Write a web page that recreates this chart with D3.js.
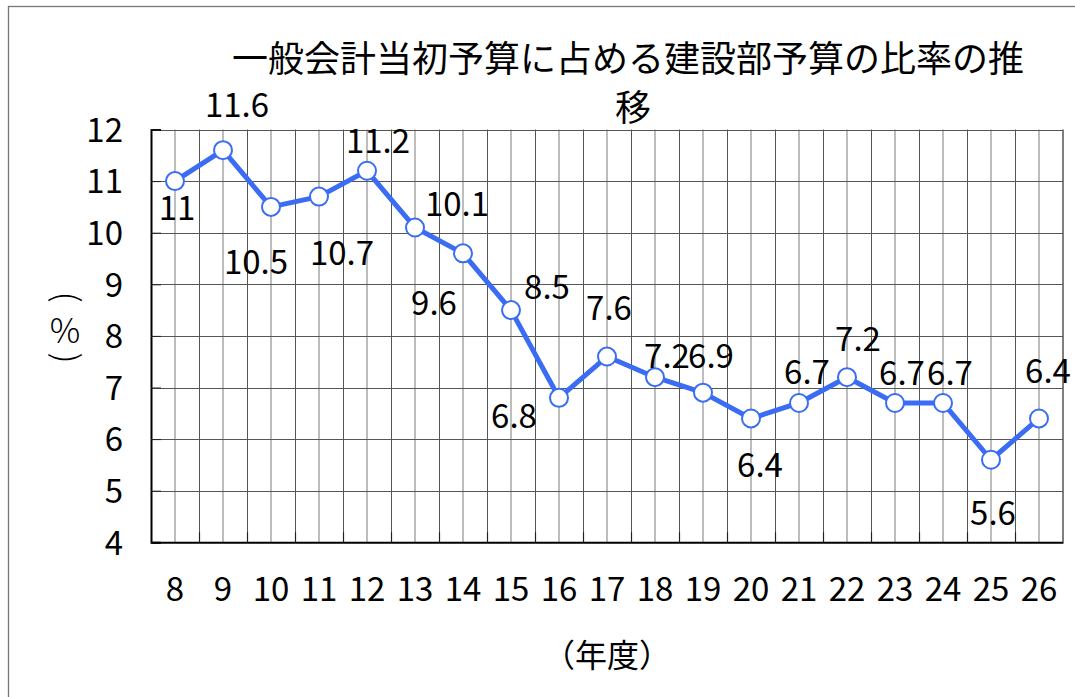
<!DOCTYPE html>
<html>
<head>
<meta charset="utf-8">
<script src="https://cdn.jsdelivr.net/npm/d3@7/dist/d3.min.js"></script>
<style>
  html, body { margin: 0; padding: 0; background: #fff; }
  svg { display: block; }
  text { font-family: "Noto Sans CJK JP", "Noto Sans", sans-serif; fill: #000; }
</style>
</head>
<body>
<svg id="chart" width="1075" height="697"></svg>
<script>
// ---- data ----
const years = ["8","9","10","11","12","13","14","15","16","17","18","19","20","21","22","23","24","25","26"];
const ratios = [11, 11.6, 10.5, 10.7, 11.2, 10.1, 9.6, 8.5, 6.8, 7.6, 7.2, 6.9, 6.4, 6.7, 7.2, 6.7, 6.7, 5.6, 6.4];
const yTicks = [4, 5, 6, 7, 8, 9, 10, 11, 12];
const titleLines = ["一般会計当初予算に占める建設部予算の比率の推", "移"];
const yAxisTitleParts = ["(", "%", ")"];
const xAxisTitle = "（年度）";

// label placement (offsets in px from the marker centre, chosen to mimic the reference)
const labelOffsets = [
  [2, 27], [14, -45], [-15, 55], [23, 57], [11, -30], [42, -23], [-29, 50], [36, -23],
  [-45, 18], [2, -48], [12, -21], [8, -37], [9, 47], [8, -31], [11, -38], [7, -30], [7, -30],
  [2, 53], [9, -47]
];

// ---- layout ----
const svg = d3.select("#chart");
const L = 151, R = 1063, T = 129.5, B = 542.3;
const blue = "#3a6cf4";
const FS = 33;

// outer frame
svg.append("rect").attr("x", 8.5).attr("y", 6.5).attr("width", 1100).attr("height", 720)
  .attr("fill", "none").attr("stroke", "#777").attr("stroke-width", 1.3);

const x = d3.scaleBand().domain(years).range([L, R]).padding(0);
const y = d3.scaleLinear().domain([4, 12]).range([B, T]);

const g = svg.append("g");

// vertical light gridlines at category centres
g.selectAll(".vc").data(years).join("line")
  .attr("x1", d => x(d) + x.bandwidth() / 2).attr("x2", d => x(d) + x.bandwidth() / 2)
  .attr("y1", T).attr("y2", B)
  .attr("stroke", "#bdbdbd").attr("stroke-width", 2);

// vertical dark gridlines at category boundaries
g.selectAll(".vb").data(years.slice(1)).join("line")
  .attr("x1", d => x(d) + 0.5).attr("x2", d => x(d) + 0.5)
  .attr("y1", T).attr("y2", B)
  .attr("stroke", "#555").attr("stroke-width", 1);

// horizontal gridlines
g.selectAll(".hg").data(yTicks).join("line")
  .attr("x1", L).attr("x2", R)
  .attr("y1", d => Math.round(y(d)) + 0.5).attr("y2", d => Math.round(y(d)) + 0.5)
  .attr("stroke", "#555").attr("stroke-width", 1);

// axes
const yAxis = d3.axisLeft(y).tickValues(yTicks).tickSize(-10).tickPadding(28).tickFormat(d3.format("d"));
const yg = svg.append("g").attr("transform", `translate(${L},0)`).call(yAxis);
yg.select(".domain").attr("stroke", "#000").attr("stroke-width", 2);
yg.selectAll(".tick line").attr("stroke", "#222");
yg.selectAll(".tick text").attr("font-size", FS).attr("dy", "0.36em")
  .style("font-family", '"Noto Sans CJK JP", sans-serif');

const xAxis = d3.axisBottom(x).tickSize(0).tickPadding(35);
const xg = svg.append("g").attr("transform", `translate(0,${B})`).call(xAxis);
xg.select(".domain").attr("stroke", "#000").attr("stroke-width", 2);
xg.selectAll(".tick text").attr("font-size", FS).attr("dy", "0.71em")
  .style("font-family", '"Noto Sans CJK JP", sans-serif');
// inside boundary ticks on bottom
xg.selectAll(".bt").data(years.slice(1)).join("line")
  .attr("x1", d => x(d) + 0.5).attr("x2", d => x(d) + 0.5)
  .attr("y1", 0).attr("y2", -10).attr("stroke", "#222").attr("stroke-width", 1.2);

// right border of plot
svg.append("line").attr("x1", R).attr("x2", R).attr("y1", T).attr("y2", B)
  .attr("stroke", "#555").attr("stroke-width", 1.5);

// line
const cx = d => x(d) + x.bandwidth() / 2;
const line = d3.line().x((d, i) => cx(years[i])).y(d => y(d));
svg.append("path").datum(ratios).attr("d", line)
  .attr("fill", "none").attr("stroke", blue).attr("stroke-width", 5).attr("stroke-linejoin", "round");

// markers
svg.selectAll(".pt").data(ratios).join("circle")
  .attr("cx", (d, i) => cx(years[i])).attr("cy", d => y(d)).attr("r", 9)
  .attr("fill", "#fff").attr("stroke", blue).attr("stroke-width", 2);

// data labels
svg.selectAll(".lbl").data(ratios).join("text")
  .attr("x", (d, i) => cx(years[i]) + labelOffsets[i][0])
  .attr("y", (d, i) => y(d) + labelOffsets[i][1])
  .attr("dy", "0.36em")
  .attr("text-anchor", "middle").attr("font-size", FS)
  .text(d => String(d));

// title
svg.selectAll(".title").data(titleLines).join("text")
  .attr("x", (d, i) => i === 0 ? 628 : 633).attr("y", (d, i) => 59 + i * 49)
  .attr("dy", "0.36em").attr("text-anchor", "middle").attr("font-size", 36)
  .text(d => d);

// y axis title (vertical writing: rotated parentheses around an upright %)
const ytPos = [[65, 297, 90], [65, 331, 0], [65, 358, 90]];
svg.selectAll(".yt").data(yAxisTitleParts).join("text")
  .attr("x", (d, i) => ytPos[i][0]).attr("y", (d, i) => ytPos[i][1])
  .attr("dy", (d, i) => i === 1 ? "0.36em" : "0.3em")
  .attr("text-anchor", "middle").attr("font-size", (d, i) => i === 1 ? 34 : 34)
  .attr("font-weight", 300)
  .attr("transform", (d, i) => ytPos[i][2] ? `rotate(${ytPos[i][2]},${ytPos[i][0]},${ytPos[i][1]})` : null)
  .text(d => d);

// x axis title
svg.append("text").attr("x", 607).attr("y", 655).attr("dy", "0.36em")
  .attr("text-anchor", "middle").attr("font-size", 32).text(xAxisTitle);
</script>
</body>
</html>
